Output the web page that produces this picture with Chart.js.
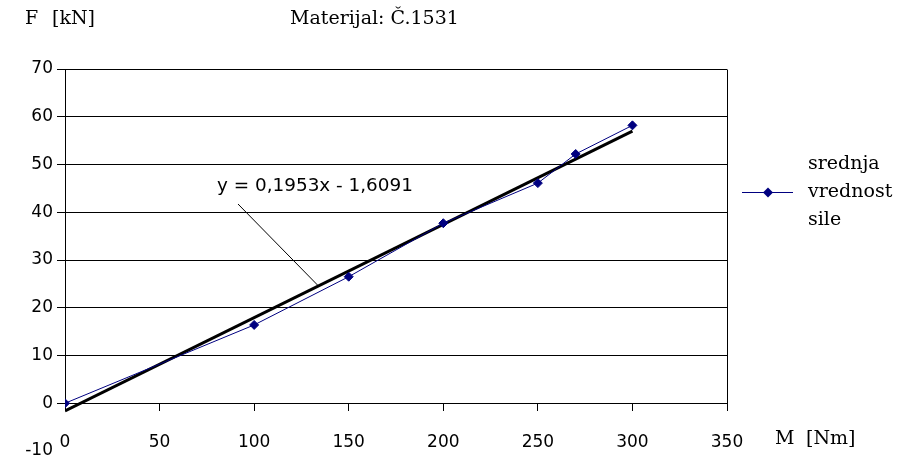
<!DOCTYPE html>
<html>
<head>
<meta charset="utf-8">
<script src="https://cdn.jsdelivr.net/npm/chart.js@4.4.1/dist/chart.umd.min.js"></script>
<style>
  html, body { margin: 0; padding: 0; background: #fff; }
  #wrap { width: 902px; height: 458px; position: relative; }
</style>
</head>
<body>
<div id="wrap"><canvas id="c" width="902" height="458"></canvas></div>
<script>
// Measured mean force against applied moment
const moments = [0, 100, 150, 200, 250, 270, 300];
const forces = [0, 16.4, 26.5, 37.7, 46.1, 52.2, 58.2];

// Axis ticks
const xTickValues = [0, 50, 100, 150, 200, 250, 300, 350];
const yTickValues = [-10, 0, 10, 20, 30, 40, 50, 60, 70];

// Linear trend line as stated by its label
const trendSlope = 0.1953;
const trendIntercept = -1.6091;
const trendFrom = 0;
const trendTo = 300;

const seriesLabel = ['srednja', 'vrednost', 'sile'];
const chartTitle = 'Materijal: Č.1531';
const yAxisTitle = ['F', '[kN]'];
const xAxisTitle = ['M', '[Nm]'];
const equationText = 'y = 0,1953x - 1,6091';

const NAVY = '#000080';
const SANS = '"DejaVu Sans", Verdana, sans-serif';
const SERIF = '"DejaVu Serif", "Liberation Serif", serif';

const trendPoints = [trendFrom, trendTo].map(x => ({ x, y: trendSlope * x + trendIntercept }));
const seriesPoints = moments.map((m, i) => ({ x: m, y: forces[i] }));

// Plot frame, axis titles, equation label with leader and the legend
const decorations = {
  id: 'decorations',
  beforeDatasetsDraw(chart) {
    const { ctx } = chart;
    const xs = chart.scales.x, ys = chart.scales.y;
    const top = Math.round(ys.getPixelForValue(70)) + 0.5;
    const bottom = Math.round(ys.getPixelForValue(0)) + 0.5;
    ctx.save();
    ctx.strokeStyle = '#000';
    ctx.lineWidth = 1;
    [0, 350].forEach(v => {
      const px = Math.round(xs.getPixelForValue(v)) + 0.5;
      ctx.beginPath();
      ctx.moveTo(px, top);
      ctx.lineTo(px, bottom);
      ctx.stroke();
    });
    // leader from equation label to trend line
    const lx = 134;
    ctx.beginPath();
    ctx.moveTo(238, 204);
    ctx.lineTo(xs.getPixelForValue(lx), ys.getPixelForValue(trendSlope * lx + trendIntercept));
    ctx.stroke();
    ctx.restore();
  },
  afterDraw(chart) {
    const { ctx } = chart;
    ctx.save();
    ctx.fillStyle = '#000';
    ctx.textBaseline = 'middle';
    ctx.textAlign = 'left';
    ctx.font = '19px ' + SERIF;
    ctx.fillText(yAxisTitle[0], 25, 19);
    ctx.fillText(yAxisTitle[1], 52, 19);
    ctx.fillText(chartTitle, 290, 19);
    ctx.fillText(xAxisTitle[0], 775, 439);
    ctx.fillText(xAxisTitle[1], 806, 439);
    seriesLabel.forEach((t, i) => ctx.fillText(t, 808, 164 + i * 28));
    ctx.font = '18.4px ' + SANS;
    ctx.fillText(equationText, 217, 186);
    // legend sample
    ctx.strokeStyle = NAVY;
    ctx.lineWidth = 1;
    ctx.beginPath();
    ctx.moveTo(742, 192.5);
    ctx.lineTo(793, 192.5);
    ctx.stroke();
    ctx.fillStyle = NAVY;
    ctx.beginPath();
    ctx.moveTo(768, 187.5);
    ctx.lineTo(773, 192.5);
    ctx.lineTo(768, 197.5);
    ctx.lineTo(763, 192.5);
    ctx.closePath();
    ctx.fill();
    ctx.restore();
  }
};

new Chart(document.getElementById('c'), {
  type: 'scatter',
  data: {
    datasets: [
      {
        label: seriesLabel.join(' '),
        data: seriesPoints,
        showLine: true,
        borderColor: NAVY,
        borderWidth: 1,
        pointStyle: 'rectRot',
        pointRadius: 4.5,
        pointBackgroundColor: NAVY,
        pointBorderColor: NAVY,
        pointBorderWidth: 1,
        order: 0
      },
      {
        label: 'trend',
        data: trendPoints,
        showLine: true,
        borderColor: '#000',
        borderWidth: 3,
        pointRadius: 0,
        order: 1
      }
    ]
  },
  options: {
    responsive: false,
    devicePixelRatio: 1,
    animation: false,
    layout: { padding: { left: 0, right: 175, top: 69, bottom: 7 } },
    plugins: { legend: { display: false }, tooltip: { enabled: false } },
    scales: {
      x: {
        type: 'linear',
        position: { y: 0 },
        min: 0,
        max: 350,
        afterBuildTicks: s => { s.ticks = xTickValues.map(v => ({ value: v })); },
        ticks: { color: '#000', font: { family: SANS, size: 17 }, padding: 22, maxRotation: 0 },
        grid: { drawOnChartArea: false, drawTicks: true, tickLength: 7, color: '#000', lineWidth: 1 },
        border: { display: true, color: '#000', width: 1 }
      },
      y: {
        type: 'linear',
        min: -10,
        max: 70,
        afterBuildTicks: s => { s.ticks = yTickValues.map(v => ({ value: v })); },
        afterFit: s => { s.width = 65; s.paddingTop = 0; s.paddingBottom = 0; },
        ticks: { color: '#000', font: { family: SANS, size: 17 }, padding: 4 },
        grid: {
          drawTicks: true,
          tickLength: 8,
          lineWidth: 1,
          color: c => (c.tick && c.tick.value < 0 ? 'rgba(0,0,0,0)' : '#000')
        },
        border: { display: false }
      }
    }
  },
  plugins: [decorations]
});
</script>
</body>
</html>
